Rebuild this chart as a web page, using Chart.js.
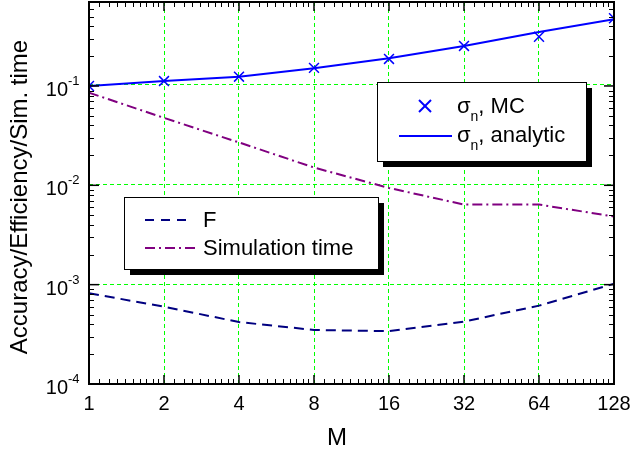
<!DOCTYPE html>
<html>
<head>
<meta charset="utf-8">
<script src="https://cdn.jsdelivr.net/npm/chart.js@4"></script>
<style>
  html, body { margin: 0; padding: 0; background: #fff; }
  #wrap { width: 633px; height: 450px; }
</style>
</head>
<body>
<div id="wrap"><canvas id="chart" width="633" height="450"></canvas></div>
<script>
// values
const M = [1, 2, 4, 8, 16, 32, 64, 128];
const sigmaMC = [0.100, 0.112, 0.124, 0.152, 0.187, 0.253, 0.313, 0.48];
const sigmaAnalytic = [0.100, 0.112, 0.124, 0.151, 0.190, 0.252, 0.350, 0.47];
const fValues = [0.00082, 0.00060, 0.00042, 0.00035, 0.00034, 0.000425, 0.000615, 0.00102];
const simTime = [0.0856, 0.0477, 0.0270, 0.0151, 0.0094, 0.0064, 0.0064, 0.00485];

const xTickLabels = ['1', '2', '4', '8', '16', '32', '64', '128'];
const yTickValues = [1e-4, 1e-3, 1e-2, 1e-1];
const yTickExponents = ['-4', '-3', '-2', '-1'];

const FONT = "'Liberation Sans', Arial, sans-serif";
const BLUE = '#0000ff', NAVY = '#000080', PURPLE = '#800080', GRID = '#00ff00';
const F_DASH = [10, 6];
const SIM_DASH = [10, 4, 2, 4];

function pts(ys) {
  return M.map((m, i) => ({ x: m, y: ys[i] }));
}

function frameLine(ctx, x1, y1, x2, y2) {
  ctx.beginPath();
  ctx.moveTo(x1, y1);
  ctx.lineTo(x2, y2);
  ctx.stroke();
}

// snap a thin line onto an even pixel so the green stays green
function evenPx(p) {
  return Math.floor(p / 2) * 2 + 0.5;
}

// sigma with subscript n, then the rest
function sigmaText(ctx, x, base, rest) {
  ctx.textAlign = 'left';
  ctx.textBaseline = 'alphabetic';
  ctx.font = '22px ' + FONT;
  ctx.fillText('σ', x, base);
  let w = ctx.measureText('σ').width;
  ctx.font = '14px ' + FONT;
  ctx.fillText('n', x + w, base + 8);
  w += ctx.measureText('n').width;
  ctx.font = '22px ' + FONT;
  ctx.fillText(rest, x + w, base);
}

function legendBox(ctx, x, y, w, h) {
  ctx.fillStyle = '#000';
  ctx.fillRect(x + 6, y + 6, w, h);
  ctx.fillStyle = '#fff';
  ctx.fillRect(x, y, w, h);
  ctx.strokeStyle = '#000';
  ctx.lineWidth = 1;
  ctx.strokeRect(x + 0.5, y + 0.5, w, h);
}

// green dashed grid, under the data
const gridPlugin = {
  id: 'greenGrid',
  beforeDatasetsDraw(chart) {
    const { ctx, chartArea: a } = chart;
    const x = chart.scales.x, y = chart.scales.y;
    ctx.save();
    ctx.strokeStyle = GRID;
    ctx.lineWidth = 1;
    ctx.setLineDash([4, 3]);
    M.slice(1, -1).forEach(v => {
      const px = evenPx(x.getPixelForValue(v));
      frameLine(ctx, px, a.bottom, px, a.top);
    });
    yTickValues.slice(1).forEach(v => {
      const py = evenPx(y.getPixelForValue(v));
      frameLine(ctx, a.left, py, a.right, py);
    });
    ctx.restore();
  }
};

const framePlugin = {
  id: 'frame',
  afterDraw(chart) {
    const { ctx, chartArea: a } = chart;
    const x = chart.scales.x, y = chart.scales.y;
    ctx.save();
    ctx.strokeStyle = '#000';

    // minor ticks, y
    ctx.lineWidth = 1;
    for (let n = -4; n <= -1; n++) {
      for (let k = 2; k <= 9; k++) {
        const v = k * Math.pow(10, n);
        if (v > y.max) continue;
        const py = Math.round(y.getPixelForValue(v)) + 0.5;
        frameLine(ctx, a.left, py, a.left + 5, py);
        frameLine(ctx, a.right, py, a.right - 5, py);
      }
    }
    // minor ticks, x
    for (let o = 1; o < 128; o *= 2) {
      for (let f = 1.1; f < 1.95; f += 0.1) {
        const px = Math.round(x.getPixelForValue(o * f)) + 0.5;
        frameLine(ctx, px, a.bottom, px, a.bottom - 5);
        frameLine(ctx, px, a.top, px, a.top + 5);
      }
    }
    // major ticks
    ctx.lineWidth = 1.5;
    yTickValues.forEach(v => {
      const py = y.getPixelForValue(v);
      frameLine(ctx, a.left, py, a.left + 10, py);
      frameLine(ctx, a.right, py, a.right - 10, py);
    });
    M.forEach(v => {
      const px = x.getPixelForValue(v);
      frameLine(ctx, px, a.bottom, px, a.bottom - 9);
      frameLine(ctx, px, a.top, px, a.top + 9);
    });
    // frame
    ctx.lineWidth = 2;
    ctx.strokeRect(a.left, a.top, a.right - a.left, a.bottom - a.top);

    // tick labels
    ctx.fillStyle = '#000';
    ctx.textBaseline = 'alphabetic';
    yTickValues.forEach((v, i) => {
      const py = y.getPixelForValue(v);
      ctx.font = '20px ' + FONT;
      ctx.textAlign = 'right';
      ctx.fillText('10', a.left - 21, py + 10);
      ctx.font = '13px ' + FONT;
      ctx.textAlign = 'left';
      ctx.fillText(yTickExponents[i], a.left - 21, py - 1);
    });
    ctx.font = '20px ' + FONT;
    ctx.textAlign = 'center';
    M.forEach((v, i) => {
      ctx.fillText(xTickLabels[i], x.getPixelForValue(v), a.bottom + 26);
    });

    // axis titles
    ctx.font = '24px ' + FONT;
    ctx.fillText('M', 337, 445);
    ctx.save();
    ctx.translate(27, 197);
    ctx.rotate(-Math.PI / 2);
    ctx.fillText('Accuracy/Efficiency/Sim. time', 0, 0);
    ctx.restore();

    // legend: sigma
    legendBox(ctx, 377, 82, 209, 79);
    ctx.strokeStyle = BLUE;
    ctx.lineWidth = 2;
    frameLine(ctx, 419, 100, 431, 112);
    frameLine(ctx, 431, 100, 419, 112);
    frameLine(ctx, 399, 136, 452, 136);
    ctx.fillStyle = '#000';
    sigmaText(ctx, 457, 113, ', MC');
    sigmaText(ctx, 457, 142, ', analytic');

    // legend: F / simulation time
    legendBox(ctx, 124, 197, 254, 72);
    ctx.lineWidth = 2;
    ctx.strokeStyle = NAVY;
    ctx.setLineDash([9, 7]);
    frameLine(ctx, 145, 220, 190, 220);
    ctx.strokeStyle = PURPLE;
    ctx.setLineDash(SIM_DASH);
    frameLine(ctx, 145, 248, 198, 248);
    ctx.setLineDash([]);
    ctx.fillStyle = '#000';
    ctx.font = '22px ' + FONT;
    ctx.textAlign = 'left';
    ctx.fillText('F', 203, 227);
    ctx.fillText('Simulation time', 203, 255);

    ctx.restore();
  }
};

new Chart(document.getElementById('chart'), {
  type: 'line',
  data: {
    datasets: [
      {
        label: 'σn, MC',
        data: pts(sigmaMC),
        showLine: false,
        pointStyle: 'crossRot',
        pointRadius: 7,
        pointBorderWidth: 1.5,
        borderColor: BLUE,
        backgroundColor: BLUE,
        clip: 0
      },
      {
        label: 'σn, analytic',
        data: pts(sigmaAnalytic),
        borderColor: BLUE,
        borderWidth: 2,
        pointRadius: 0,
        clip: 0
      },
      {
        label: 'F',
        data: pts(fValues),
        borderColor: NAVY,
        borderWidth: 2,
        borderDash: F_DASH,
        pointRadius: 0,
        clip: 0
      },
      {
        label: 'Simulation time',
        data: pts(simTime),
        borderColor: PURPLE,
        borderWidth: 2,
        borderDash: SIM_DASH,
        pointRadius: 0,
        clip: 0
      }
    ]
  },
  options: {
    responsive: false,
    animation: false,
    devicePixelRatio: 1,
    layout: { autoPadding: false, padding: { left: 89, top: 2, right: 19, bottom: 66 } },
    plugins: { legend: { display: false }, tooltip: { enabled: false } },
    scales: {
      x: {
        type: 'logarithmic',
        min: 1,
        max: 128,
        afterBuildTicks: s => { s.ticks = M.map(v => ({ value: v })); },
        ticks: { display: false },
        grid: { display: false, drawTicks: false },
        border: { display: false }
      },
      y: {
        type: 'logarithmic',
        min: 1e-4,
        max: 0.7,
        afterBuildTicks: s => { s.ticks = yTickValues.map(v => ({ value: v })); },
        ticks: { display: false },
        grid: { display: false, drawTicks: false },
        border: { display: false }
      }
    }
  },
  plugins: [gridPlugin, framePlugin]
});
</script>
</body>
</html>
